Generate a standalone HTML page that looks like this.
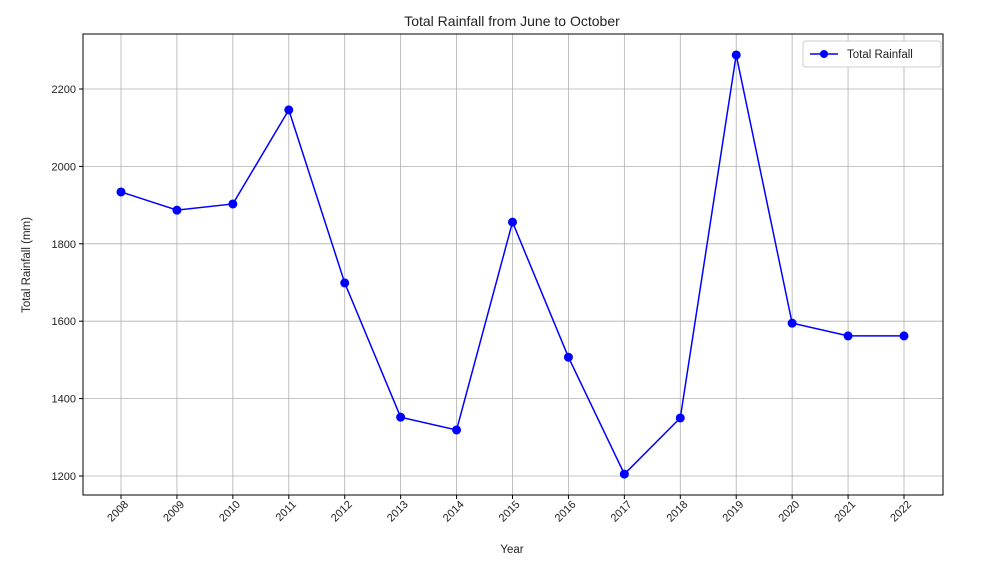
<!DOCTYPE html>
<html><head><meta charset="utf-8"><style>
body{margin:0;background:#fff;}
svg text{font-family:"Liberation Sans","DejaVu Sans",sans-serif;fill:#222;}
</style></head><body>
<svg id="chart" width="985" height="567" xmlns="http://www.w3.org/2000/svg">
<text x="512" y="26" font-size="14" text-anchor="middle">Total Rainfall from June to October</text>
<g id="grid"></g>
<g id="axes"></g>
<g id="series"></g>
<rect x="83" y="34" width="860" height="461" fill="none" stroke="#000" stroke-width="1"/>
<text x="512" y="553" font-size="11.5" text-anchor="middle">Year</text>
<text x="0" y="0" font-size="11.5" text-anchor="middle" transform="translate(30,265) rotate(-90)">Total Rainfall (mm)</text>
<g>
<rect x="803" y="41" width="138" height="26" fill="#fff" stroke="#ccc" rx="3"/>
<line x1="810" y1="54" x2="838" y2="54" stroke="#0000ff" stroke-width="1.5"/>
<circle cx="824" cy="54" r="4" fill="#0000ff"/>
<text x="847" y="58" font-size="11.5">Total Rainfall</text>
</g>
</svg>
<script>
const years=[2008,2009,2010,2011,2012,2013,2014,2015,2016,2017,2018,2019,2020,2021,2022];
const rainfall=[1934,1887,1903,2146,1699,1352,1319,1856,1507,1205,1350,2288,1595,1562,1562];
const yTicks=[1200,1400,1600,1800,2000,2200];
const NS="http://www.w3.org/2000/svg";
const x0=121,x1=904;
function xs(i){return x0+(x1-x0)*i/(years.length-1);}
function ys(v){return 476-(v-1200)*(476-89)/1000;}
function mk(tag,attrs,parent){const e=document.createElementNS(NS,tag);for(const k in attrs)e.setAttribute(k,attrs[k]);document.getElementById(parent).appendChild(e);return e;}
years.forEach((yr,i)=>{
  const g=mk('line',{x1:xs(i),x2:xs(i),y1:34,y2:495,stroke:'#b0b0b0','stroke-width':0.8},'grid');
  
  
  const t=mk('line',{x1:xs(i),x2:xs(i),y1:495,y2:499,stroke:'#000'},'axes');
  
  
  const l=mk('text',{x:0,y:0,'font-size':11,'text-anchor':'end',transform:`translate(${xs(i)+8},${505}) rotate(-45)`},'axes');
  l.textContent=yr;
  
  
});
yTicks.forEach(v=>{
  const g=mk('line',{x1:83,x2:943,y1:ys(v),y2:ys(v),stroke:'#b0b0b0','stroke-width':0.8},'grid');
  
  
  const t=mk('line',{x1:79,x2:83,y1:ys(v),y2:ys(v),stroke:'#000'},'axes');
  
  
  const l=mk('text',{x:76,y:ys(v)+4,'font-size':11,'text-anchor':'end'},'axes');
  l.textContent=v;
  
  
});
const pl=mk('polyline',{points:rainfall.map((v,i)=>xs(i)+','+ys(v)).join(' '),fill:'none',stroke:'#0000ff','stroke-width':1.5},'series');


rainfall.forEach((v,i)=>{
  const c=mk('circle',{cx:xs(i),cy:ys(v),r:4.5,fill:'#0000ff'},'series');
  
  
});
</script>
</body></html>
